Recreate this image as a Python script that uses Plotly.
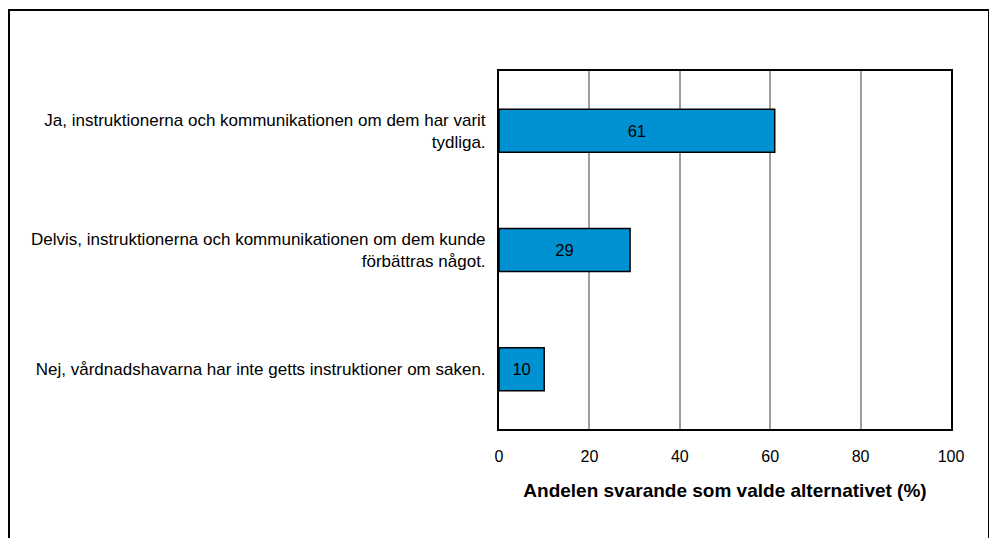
import plotly.graph_objects as go

categories = [
    "Ja, instruktionerna och kommunikationen om dem har varit<br>tydliga.",
    "Delvis, instruktionerna och kommunikationen om dem kunde<br>förbättras något.",
    "Nej, vårdnadshavarna har inte getts instruktioner om saken.",
]
values = [61, 29, 10]
x_ticks = [0, 20, 40, 60, 80, 100]
x_title = "Andelen svarande som valde alternativet (%)"

W, H = 997, 538
OFF = 8  # page body margin offset
L, R, T, B = 499 - OFF, 951 - OFF, 71 - OFF, 429 - OFF

fig = go.Figure(go.Bar(
    x=values, y=categories, orientation="h",
    marker=dict(color="#0091d2", line=dict(color="#000000", width=1.5)),
    width=0.36,
    text=[str(v) for v in values], textposition="inside",
    insidetextanchor="middle",
    textfont=dict(family="Liberation Sans, Arial", size=16.5, color="#000000"),
    constraintext="none",
    hoverinfo="skip",
))

fig.update_layout(
    width=W - OFF, height=H - OFF,
    margin=dict(l=L, r=W - OFF - R, t=T, b=H - OFF - B, pad=0),
    paper_bgcolor="white", plot_bgcolor="white",
    showlegend=False,
    font=dict(family="Liberation Sans, Arial", size=17, color="#000000"),
)
fig.update_xaxes(
    range=[0, 100], tickvals=x_ticks, ticktext=[str(t) for t in x_ticks],
    showgrid=True, gridcolor="#a59c95", gridwidth=1.5,
    showline=True, linecolor="#000000", linewidth=2, mirror=True,
    ticks="outside", ticklen=12, tickcolor="rgba(0,0,0,0)", zeroline=False,
    tickfont=dict(size=16),
    title=dict(text="<b>" + x_title + "</b>", font=dict(size=19), standoff=19),
    fixedrange=True,
)
fig.update_yaxes(
    categoryorder="array", categoryarray=categories, autorange="reversed",
    showgrid=False, showline=True, linecolor="#000000", linewidth=2, mirror=True,
    ticks="outside", ticklen=8, tickcolor="rgba(0,0,0,0)",
    tickfont=dict(size=17),
    fixedrange=True,
)

pw, ph = R - L, B - T
def px(x): return (x - OFF - L) / pw
def py(y): return (B - (y - OFF)) / ph

fig.add_shape(type="rect", xref="paper", yref="paper",
              x0=px(9), x1=px(989), y0=py(560), y1=py(10),
              line=dict(color="#000000", width=2), fillcolor="rgba(0,0,0,0)",
              layer="below")

fig.write_html("out.html")
